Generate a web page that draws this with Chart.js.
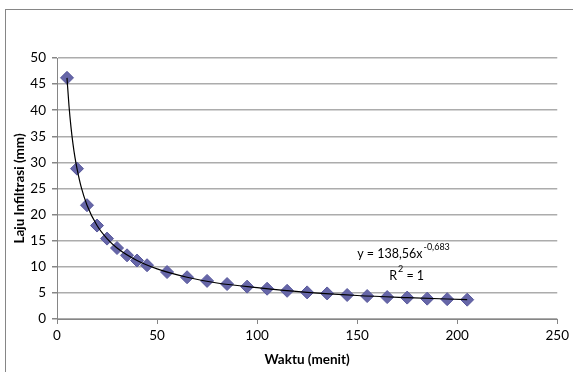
<!DOCTYPE html>
<html>
<head>
<meta charset="utf-8">
<script src="https://cdn.jsdelivr.net/npm/chart.js@4.4.1/dist/chart.umd.min.js"></script>
<style>
  html, body { margin: 0; padding: 0; background: #fff; }
  #wrap { position: relative; width: 573px; height: 372px; overflow: hidden; }
  #frame { position: absolute; left: 5px; top: 9px; width: 700px; height: 500px; border: 1px solid #868686; }
  #chart { position: absolute; left: 0; top: 0; }
</style>
</head>
<body>
<div id="wrap">
  <div id="frame"></div>
  <canvas id="chart" width="573" height="372"></canvas>
</div>
<script>
// Data laju infiltrasi
const waktu = [5, 10, 15, 20, 25, 30, 35, 40, 45, 55, 65, 75, 85, 95, 105, 115, 125, 135, 145, 155, 165, 175, 185, 195, 205];
const laju = [46.2, 28.8, 21.8, 17.9, 15.4, 13.6, 12.2, 11.2, 10.3, 9.0, 8.0, 7.3, 6.7, 6.2, 5.8, 5.4, 5.1, 4.9, 4.6, 4.4, 4.2, 4.1, 3.9, 3.8, 3.7];

// Garis trend (power)
const trendX = [5, 6, 7, 8, 9, 10, 12, 15, 20, 25, 30, 40, 50, 65, 80, 100, 125, 150, 175, 205];
const trendY = [46.2, 40.8, 36.7, 33.5, 30.9, 28.8, 25.4, 21.8, 17.9, 15.4, 13.6, 11.2, 9.6, 8.0, 6.9, 6.0, 5.1, 4.5, 4.1, 3.7];

const eqText = 'y = 138,56x';
const eqExp = '-0,683';
const r2Text = ['R', '2', ' = 1'];

const FONT = 'Lato, "Open Sans", sans-serif';

const toPts = (xs, ys) => xs.map((x, i) => ({ x: x, y: ys[i] }));

// Tulis persamaan trendline
const eqPlugin = {
  id: 'eqPlugin',
  afterDatasetsDraw(chart) {
    const ctx = chart.ctx;
    const xs = chart.scales.x, ys = chart.scales.y;
    ctx.save();
    ctx.fillStyle = '#000';
    ctx.textBaseline = 'alphabetic';
    ctx.textAlign = 'left';

    let x = xs.getPixelForValue(150);
    let y = ys.getPixelForValue(11.7);
    ctx.font = '12.5px ' + FONT;
    ctx.fillText(eqText, x, y);
    x += ctx.measureText(eqText).width + 1;
    ctx.font = '9px ' + FONT;
    ctx.fillText(eqExp, x, y - 8);

    x = xs.getPixelForValue(166);
    y = ys.getPixelForValue(7.4);
    ctx.font = '12.5px ' + FONT;
    ctx.fillText(r2Text[0], x, y);
    x += ctx.measureText(r2Text[0]).width + 1;
    ctx.font = '9px ' + FONT;
    ctx.fillText(r2Text[1], x, y - 8);
    x += ctx.measureText(r2Text[1]).width;
    ctx.font = '12.5px ' + FONT;
    ctx.fillText(r2Text[2], x, y);
    ctx.restore();
  }
};

new Chart(document.getElementById('chart'), {
  type: 'scatter',
  data: {
    datasets: [
      {
        label: 'Trend',
        type: 'line',
        data: toPts(trendX, trendY),
        borderColor: '#000',
        borderWidth: 1.2,
        pointRadius: 0,
        fill: false,
        cubicInterpolationMode: 'monotone',
        order: 0
      },
      {
        label: 'Laju Infiltrasi',
        data: toPts(waktu, laju),
        pointStyle: 'rectRot',
        pointRadius: 6.5,
        backgroundColor: '#6666a8',
        borderColor: '#58589c',
        borderWidth: 1,
        order: 1
      }
    ]
  },
  options: {
    responsive: false,
    animation: false,
    layout: { padding: { left: 0, top: 58, right: 13, bottom: 0 } },
    plugins: {
      legend: { display: false },
      tooltip: { enabled: false }
    },
    scales: {
      x: {
        type: 'linear',
        min: 0, max: 250,
        ticks: { stepSize: 50, color: '#000', font: { family: FONT, size: 13.5 }, padding: 4 },
        grid: { drawOnChartArea: false, drawTicks: true, tickLength: 5, tickColor: '#868686' },
        border: { color: '#868686', width: 1 },
        title: { display: true, text: 'Waktu (menit)', color: '#000', font: { family: FONT, size: 13.5, weight: 'bold' }, padding: { top: 0, bottom: 4 } },
        afterFit: (s) => { s.height = 53; }
      },
      y: {
        min: 0, max: 50,
        ticks: { stepSize: 5, color: '#000', font: { family: FONT, size: 13.5 }, padding: 6 },
        grid: { color: '#acacac', lineWidth: 1.5, drawTicks: true, tickLength: 5, tickColor: '#868686' },
        border: { color: '#868686', width: 1 },
        title: { display: true, text: 'Laju Infiltrasi (mm)', color: '#000', font: { family: FONT, size: 13.5, weight: 'bold' }, padding: { top: 12, bottom: 0 } },
        afterFit: (s) => { s.width = 57; }
      }
    }
  },
  plugins: [eqPlugin]
});
</script>
</body>
</html>
